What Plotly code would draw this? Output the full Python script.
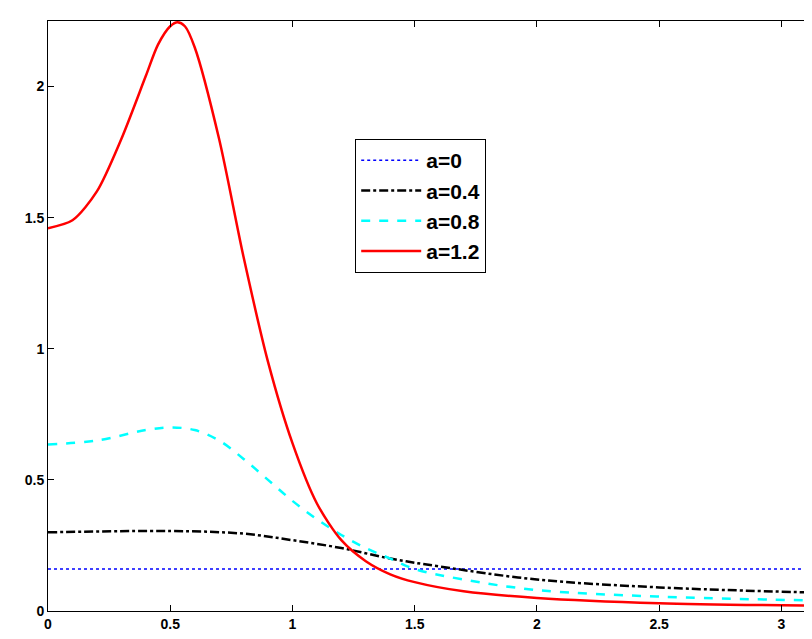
import plotly.graph_objects as go

# values
x_red = [0, 0.1, 0.2, 0.3, 0.4, 0.45, 0.5, 0.53, 0.56, 0.6, 0.7, 0.8, 0.9, 1.0, 1.1, 1.2, 1.3, 1.4, 1.5, 1.7, 2.0, 2.5, 3.1416]
y_red = [1.46, 1.49, 1.6, 1.8, 2.04, 2.16, 2.23, 2.245, 2.23, 2.15, 1.8, 1.35, 0.95, 0.64, 0.41, 0.27, 0.19, 0.14, 0.11, 0.075, 0.05, 0.03, 0.02]

x_cyan = [0, 0.2, 0.4, 0.5, 0.6, 0.7, 0.8, 0.9, 1.0, 1.1, 1.2, 1.3, 1.4, 1.5, 1.7, 2.0, 2.5, 3.1416]
y_cyan = [0.635, 0.65, 0.69, 0.70, 0.69, 0.65, 0.58, 0.50, 0.42, 0.35, 0.29, 0.24, 0.20, 0.16, 0.12, 0.08, 0.055, 0.04]

x_black = [0, 0.5, 0.8, 1.0, 1.2, 1.4, 1.6, 2.0, 2.5, 3.1416]
y_black = [0.30, 0.305, 0.295, 0.27, 0.24, 0.20, 0.17, 0.12, 0.09, 0.07]

x_blue = [0, 3.1416]
y_blue = [0.16, 0.16]

fig = go.Figure()
fig.add_trace(go.Scatter(x=x_blue, y=y_blue, mode="lines", name="a=0",
                         line=dict(color="blue", width=1.5, dash="dot")))
fig.add_trace(go.Scatter(x=x_black, y=y_black, mode="lines", name="a=0.4",
                         line=dict(color="black", width=2.5, dash="dashdot", shape="spline")))
fig.add_trace(go.Scatter(x=x_cyan, y=y_cyan, mode="lines", name="a=0.8",
                         line=dict(color="cyan", width=2.5, dash="dash", shape="spline")))
fig.add_trace(go.Scatter(x=x_red, y=y_red, mode="lines", name="a=1.2",
                         line=dict(color="red", width=2.5, shape="spline", smoothing=0.8)))

axis = dict(showgrid=False, zeroline=False, showline=True, linecolor="black", linewidth=1,
            mirror="ticks", ticks="inside", ticklen=6, tickcolor="black")
fig.update_layout(
    width=812, height=639,
    margin=dict(l=40, r=4, t=13, b=36),
    plot_bgcolor="white", paper_bgcolor="white",
    font=dict(family="Liberation Sans", size=14, color="black", weight="bold"),
    xaxis=dict(axis, range=[0, 3.1416], tickvals=[0, 0.5, 1, 1.5, 2, 2.5, 3],
               ticktext=["0", "0.5", "1", "1.5", "2", "2.5", "3"]),
    yaxis=dict(axis, range=[0, 2.25], tickvals=[0, 0.5, 1, 1.5, 2],
               ticktext=["0", "0.5", "1", "1.5", "2"]),
    legend=dict(x=0.40, y=0.80, xanchor="left", yanchor="top",
                bordercolor="black", borderwidth=1, bgcolor="white",
                itemwidth=60, tracegroupgap=8,
                font=dict(size=21, family="Liberation Sans", weight="bold")),
)
fig.write_html("out.html")
